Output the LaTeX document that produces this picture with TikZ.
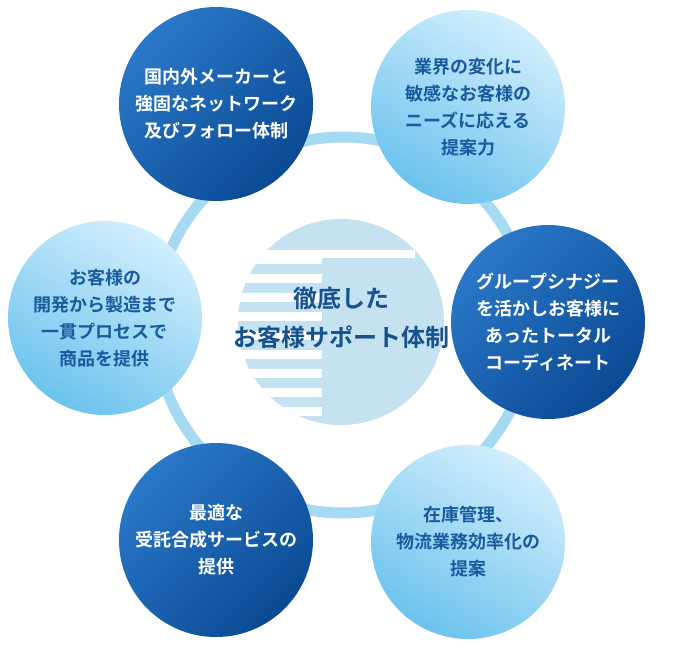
\documentclass[tikz,border=0pt]{standalone}
\usepackage{fontspec}
\newfontfamily\jp{Noto Sans CJK JP}[BoldFont={Noto Sans CJK JP Bold}]
\begin{document}
\begin{tikzpicture}[x=1pt,y=-1pt,
  dark/.style={circle,minimum size=194pt,inner sep=0pt,left color=darkA,right color=darkB,shading angle=225,text=white,font=\jp\bfseries\fontsize{18}{27}\selectfont,align=center},
  light/.style={circle,minimum size=194pt,inner sep=0pt,shading=axis,top color=lightA,bottom color=lightB,shading angle=-30,text=txtblue,font=\jp\bfseries\fontsize{18}{27}\selectfont,align=center}]
\definecolor{darkA}{HTML}{0A4A94}
\definecolor{darkB}{HTML}{2A78C8}
\definecolor{lightA}{HTML}{D2EEFC}
\definecolor{lightB}{HTML}{6CC3EE}
\definecolor{txtblue}{HTML}{1A5A9E}
\definecolor{ring}{HTML}{A6D9F2}
\definecolor{logo}{HTML}{C4E2F0}
\useasboundingbox (0,0) rectangle (686,651);
\coordinate (c) at (343,325);
\draw[ring,line width=11pt] (c) circle[radius=188];
% logo
\fill[white] (c) circle[radius=150];
\fill[logo] (341,322) circle[radius=103];
\begin{scope}
\clip (341,322) circle[radius=103];
\foreach \y in {255,274,293,312,331,350,369,388,407}{\fill[white] (230,\y) rectangle (322,\y+9);}
\fill[white] (230,258) rectangle (415,250);
\end{scope}
\node[font=\jp\bfseries\fontsize{24}{39}\selectfont,text=txtblue!90!black,align=center] (ctr) at (341,318) {徹底した\\お客様サポート体制};
\node[dark] (a) at (216,104) {国内外メーカーと\\強固なネットワーク\\及びフォロー体制};
\node[light] (b) at (468,107) {業界の変化に\\敏感なお客様の\\ニーズに応える\\提案力};
\node[dark] (d) at (548,322) {グループシナジー\\を活かしお客様に\\あったトータル\\コーディネート};
\node[light] (e) at (468,542) {在庫管理、\\物流業務効率化の\\提案};
\node[dark] (f) at (216,540) {最適な\\受託合成サービスの\\提供};
\node[light] (g) at (105,318) {お客様の\\開発から製造まで\\一貫プロセスで\\商品を提供};
\end{tikzpicture}
\end{document}
